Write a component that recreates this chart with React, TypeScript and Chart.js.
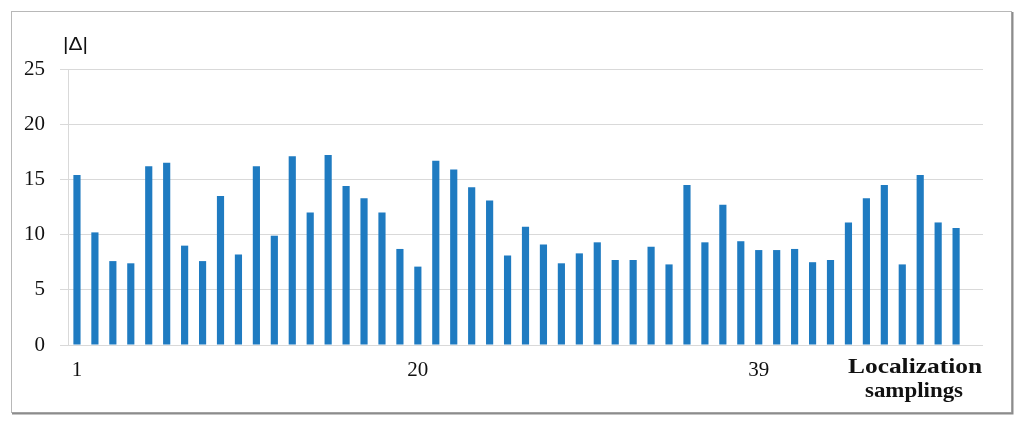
import React, { useEffect, useRef } from 'react';
import { Chart, registerables } from 'chart.js';

Chart.register(...registerables);

// Sampling indices (the 51st slot is empty and holds the axis title)
const categories = [
  '1', '2', '3', '4', '5', '6', '7', '8', '9', '10',
  '11', '12', '13', '14', '15', '16', '17', '18', '19', '20',
  '21', '22', '23', '24', '25', '26', '27', '28', '29', '30',
  '31', '32', '33', '34', '35', '36', '37', '38', '39', '40',
  '41', '42', '43', '44', '45', '46', '47', '48', '49', '50', '',
];

const deltaValues: (number | null)[] = [
  15.4, 10.2, 7.6, 7.4, 16.2, 16.5, 9.0, 7.6, 13.5, 8.2,
  16.2, 9.9, 17.1, 12.0, 17.2, 14.4, 13.3, 12.0, 8.7, 7.1,
  16.7, 15.9, 14.3, 13.1, 8.1, 10.7, 9.1, 7.4, 8.3, 9.3,
  7.7, 7.7, 8.9, 7.3, 14.5, 9.3, 12.7, 9.4, 8.6, 8.6,
  8.7, 7.5, 7.7, 11.1, 13.3, 14.5, 7.3, 15.4, 11.1, 10.6, null,
];

const shownTickLabels = ['1', '20', '39'];
const yMin = 0;
const yMax = 25;
const yStep = 5;
const yAxisLabel = '|Δ|';
const xAxisTitle = ['Localization', 'samplings'];

function drawStretched(
  ctx: CanvasRenderingContext2D,
  text: string,
  x: number,
  y: number,
  targetWidth: number,
  font: string,
) {
  ctx.save();
  ctx.font = font;
  const w = ctx.measureText(text).width;
  const s = targetWidth / w;
  ctx.translate(x, y);
  ctx.scale(s, 1);
  ctx.textAlign = 'left';
  ctx.textBaseline = 'alphabetic';
  ctx.fillText(text, 0, 0);
  ctx.restore();
}

const decorPlugin = {
  id: 'decor',
  beforeDraw(chart: any) {
    const ctx: CanvasRenderingContext2D = chart.ctx;
    ctx.save();
    ctx.fillStyle = '#ffffff';
    ctx.fillRect(0, 0, chart.width, chart.height);
    // outer frame
    ctx.strokeStyle = '#b8b8b8';
    ctx.lineWidth = 1;
    ctx.strokeRect(11.5, 11.5, 1000, 401);
    ctx.strokeStyle = '#8c8c8c';
    ctx.lineWidth = 2;
    ctx.beginPath();
    ctx.moveTo(1012.5, 12);
    ctx.lineTo(1012.5, 413.5);
    ctx.lineTo(12, 413.5);
    ctx.stroke();
    ctx.restore();
  },
  afterDraw(chart: any) {
    const ctx: CanvasRenderingContext2D = chart.ctx;
    const area = chart.chartArea;
    ctx.save();
    ctx.fillStyle = '#111111';
    drawStretched(ctx, yAxisLabel, area.left - 5, 50, 25, '19px "Liberation Sans", Arial, sans-serif');
    const titleFont = 'bold 21px "Liberation Serif", "Times New Roman", serif';
    drawStretched(ctx, xAxisTitle[0], area.right - 135, area.bottom + 28, 134, titleFont);
    drawStretched(ctx, xAxisTitle[1], area.right - 118, area.bottom + 52, 98, titleFont);
    ctx.restore();
  },
};

export default function App() {
  const canvasRef = useRef<HTMLCanvasElement | null>(null);

  useEffect(() => {
    const canvas = canvasRef.current;
    if (!canvas) return;
    const chart = new Chart(canvas, {
      type: 'bar',
      data: {
        labels: categories,
        datasets: [
          {
            label: '|Δ|',
            data: deltaValues,
            backgroundColor: '#1f7bc1',
            borderWidth: 0,
            barPercentage: 0.4,
            categoryPercentage: 1,
          },
        ],
      },
      options: {
        animation: false,
        responsive: false,
        maintainAspectRatio: false,
        layout: { padding: { left: 0, top: 69, right: 41, bottom: 0 } },
        plugins: {
          legend: { display: false },
          tooltip: { enabled: false },
          title: { display: false },
        },
        scales: {
          x: {
            type: 'category',
            offset: true,
            grid: { display: false, drawTicks: false },
            border: { display: false },
            ticks: {
              autoSkip: false,
              maxRotation: 0,
              minRotation: 0,
              padding: 13,
              color: '#111111',
              font: { family: '"Liberation Serif", "Times New Roman", serif', size: 21 },
              callback: (_v: any, index: number) =>
                shownTickLabels.includes(categories[index]) ? categories[index] : '',
            },
            afterFit: (scale: any) => {
              scale.height = 80;
            },
          },
          y: {
            min: yMin,
            max: yMax,
            grid: { color: '#d9d9d9', lineWidth: 1, tickLength: 8, drawTicks: true },
            border: { display: true, color: '#d9d9d9', width: 1 },
            ticks: {
              stepSize: yStep,
              padding: 15,
              color: '#111111',
              font: { family: '"Liberation Serif", "Times New Roman", serif', size: 21 },
            },
            afterFit: (scale: any) => {
              scale.width = 68;
            },
          },
        },
      },
      plugins: [decorPlugin],
    });
    return () => chart.destroy();
  }, []);

  return (
    <div style={{ position: 'fixed', left: 0, top: 0, width: 1024, height: 425, background: '#fff' }}>
      <canvas ref={canvasRef} width={1024} height={425} style={{ display: 'block', width: 1024, height: 425 }} />
    </div>
  );
}
